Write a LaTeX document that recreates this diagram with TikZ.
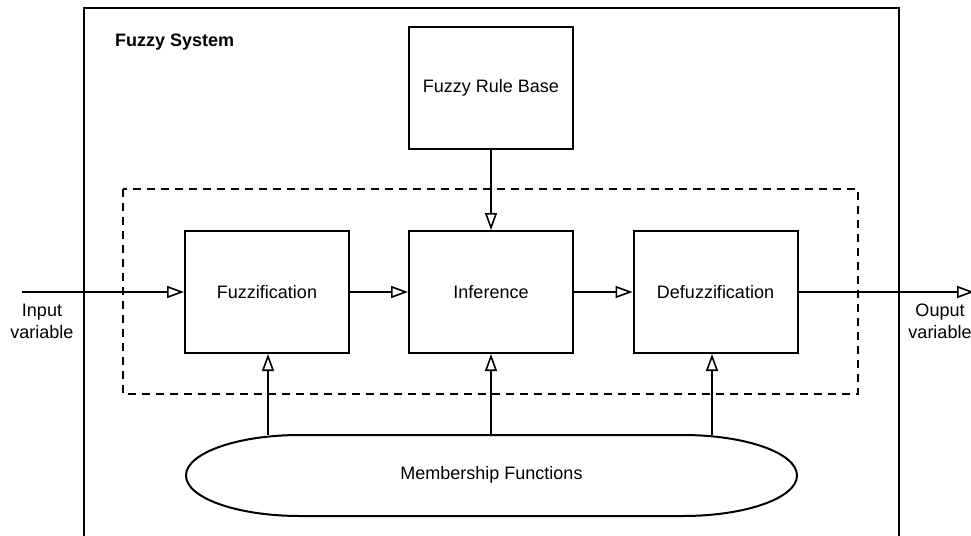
\documentclass[tikz,border=0pt]{standalone}
\usepackage{fontspec}
\setmainfont{Liberation Sans}
\usetikzlibrary{arrows.meta}

\tikzset{
  stage/.style={draw, line width=2pt, minimum width=164pt, minimum height=122pt,
    inner sep=0pt, font=\fontsize{18}{22}\selectfont},
  flow/.style={line width=2pt, -{Triangle[open, length=17pt, width=12pt, line width=1.6pt]}},
  frame/.style={line width=2pt},
  label/.style={font=\fontsize{18}{22}\selectfont, align=center, inner sep=0pt},
}

\begin{document}
\begin{tikzpicture}[x=1pt, y=-1pt]
  \clip (0,0) rectangle (971,535);
  \fill[white] (0,0) rectangle (971,535);

  % open system frame
  \draw[frame] (84,545) -- (84,8) -- (899,8) -- (899,545);
  \node[anchor=west, font=\fontsize{18}{22}\selectfont\bfseries, inner sep=0pt] (title) at (115,42.5) {Fuzzy System};

  % inference core boundary
  \draw[line width=2pt, dash pattern=on 8pt off 6pt] (123,189) rectangle (858,394);

  % processing stages
  \node[stage] (rules) at (491,88) {Fuzzy Rule Base};
  \node[stage] (fuzz)  at (267,292) {Fuzzification};
  \node[stage] (inf)   at (491,292) {Inference};
  \node[stage] (defuz) at (715.5,292) {Defuzzification};

  % membership functions: stadium with half-ellipse ends
  \draw[line width=2pt] (300,435) -- (683,435)
    arc[start angle=90, end angle=-90, x radius=114pt, y radius=40.5pt]
    -- (300,516)
    arc[start angle=270, end angle=90, x radius=114pt, y radius=40.5pt] -- cycle;
  \node[label] (mf) at (491.5,474.5) {Membership Functions};
  \coordinate (m1) at (268,435);
  \coordinate (m2) at (491,435);
  \coordinate (m3) at (712,435);

  % inputs and outputs
  \coordinate (in) at (22,292);
  \coordinate (out) at (974,292);
  \node[label] (inlabel) at (42,321) {Input\\variable};
  \node[label] (outlabel) at (940,321) {Ouput\\variable};

  % signal flow
  \draw[flow] (in) -- (fuzz.west);
  \draw[flow] (fuzz.east) -- (inf.west);
  \draw[flow] (inf.east) -- (defuz.west);
  \draw[flow] (defuz.east) -- (out);
  \draw[flow] (rules.south) -- (inf.north);
  \draw[flow] (m1) -- (m1 |- fuzz.south);
  \draw[flow] (m2) -- (m2 |- inf.south);
  \draw[flow] (m3) -- (m3 |- defuz.south);
\end{tikzpicture}
\end{document}
